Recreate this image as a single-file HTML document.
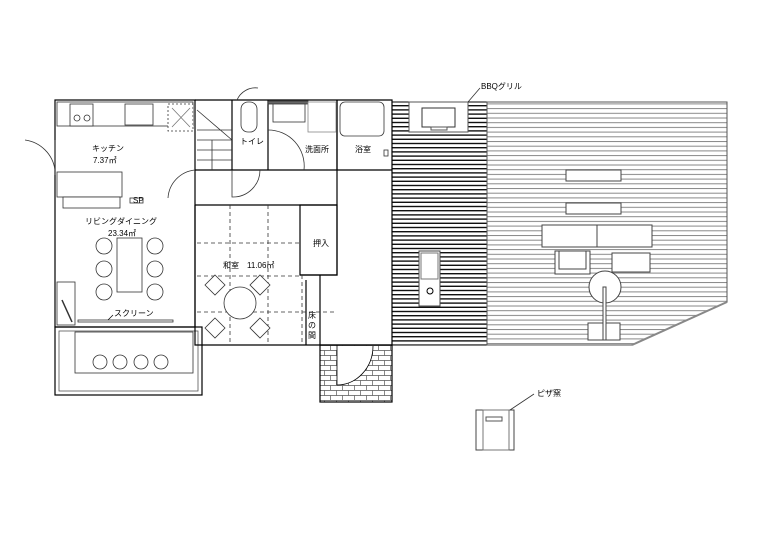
<!DOCTYPE html>
<html><head><meta charset="utf-8"><style>
html,body{margin:0;padding:0;background:#fff;}
svg{display:block;}
text{font-family:"Liberation Sans","Noto Sans CJK JP",sans-serif;font-size:8px;fill:#000;}
</style></head><body>
<svg width="768" height="543" viewBox="0 0 768 543" xmlns="http://www.w3.org/2000/svg">
<defs>
<pattern id="dk" width="4" height="4.2" patternUnits="userSpaceOnUse"><line x1="0" y1="0.7" x2="4" y2="0.7" stroke="#111" stroke-width="1.4"/></pattern>
<pattern id="lt" width="4" height="4.7" patternUnits="userSpaceOnUse"><line x1="0" y1="0.5" x2="4" y2="0.5" stroke="#888" stroke-width="1"/></pattern>
<pattern id="br" width="12" height="10" patternUnits="userSpaceOnUse"><path d="M0 0.5H12M0 5.5H12M0.5 0.5V5.5M6.5 5.5V10.5" stroke="#555" fill="none" stroke-width="0.7"/></pattern>
</defs>
<rect x="392" y="102" width="95" height="243" fill="url(#dk)" stroke="#000"/>
<path d="M487 102H727V302L632 345H487Z" fill="url(#lt)" stroke="#555"/>
<path d="M727 302L632 345" stroke="#888" stroke-width="2"/>
<rect x="409" y="102" width="59" height="30" fill="#fff" stroke="#555"/>
<rect x="422" y="108" width="33" height="19" fill="#fff" stroke="#333"/>
<rect x="431" y="127" width="16" height="3" fill="#fff" stroke="#555"/>
<path d="M468 102L480 88" stroke="#333" stroke-width="0.8"/>
<text x="481" y="89">BBQグリル</text>
<rect x="419" y="251" width="21" height="55" fill="#fff" stroke="#444"/>
<rect x="421" y="253" width="17" height="26" fill="#fff" stroke="#777"/>
<circle cx="430" cy="291" r="3" fill="#fff" stroke="#000"/>
<g fill="#fff" stroke="#444">
<rect x="566" y="170" width="55" height="11"/>
<rect x="566" y="203" width="55" height="11"/>
<rect x="542" y="225" width="110" height="22"/>
<line x1="597" y1="225" x2="597" y2="247"/>
<rect x="555" y="251" width="35" height="23"/>
<rect x="559" y="251" width="27" height="18"/>
<rect x="612" y="253" width="38" height="19"/>
<circle cx="605" cy="287" r="16"/>
<rect x="588" y="323" width="32" height="17"/>
<rect x="603" y="287" width="3" height="53"/>
</g>
<rect x="476" y="410" width="38" height="40" fill="#fff" stroke="#444"/>
<rect x="483" y="410" width="26" height="40" fill="none" stroke="#777"/>
<rect x="486" y="417" width="16" height="4" fill="none" stroke="#555"/>
<path d="M510 410L534 394" stroke="#333" stroke-width="0.8"/>
<text x="537" y="396">ピザ窯</text>
<g fill="none" stroke="#000" stroke-width="1.2">
<rect x="55" y="100" width="140" height="227"/>
<rect x="55" y="327" width="147" height="68"/>
<rect x="59" y="331" width="139" height="60" stroke="#555" stroke-width="0.8"/>
<path d="M195 100H392V345H195V205"/>
<path d="M195 170H392M232 100V170M268 100V170M337 100V170"/>
<path d="M195 205H337V275H300M337 205V100"/>
<rect x="300" y="205" width="37" height="70"/>
<path d="M320 275V345M306 280V345"/>
<rect x="320" y="345" width="72" height="57" fill="url(#br)"/>
</g>
<path d="M337 346H373A36 39 0 0 1 337 385Z" fill="#fff" stroke="none"/>
<path d="M373 346A36 39 0 0 1 337 385" fill="none" stroke="#000" stroke-width="0.8"/>
<path d="M337 345V385" stroke="#000" stroke-width="0.8"/>
<g fill="#fff" stroke="#333" stroke-width="0.8">
<rect x="57" y="102" width="136" height="24"/>
<rect x="70" y="104" width="23" height="22"/>
<circle cx="77" cy="118" r="3"/><circle cx="87" cy="118" r="3"/>
<rect x="125" y="104" width="28" height="21"/>
<rect x="168" y="104" width="25" height="27" stroke-dasharray="2,2"/>
<path d="M172 108L190 127M190 108L172 127" stroke="#777"/>
<rect x="57" y="172" width="65" height="25"/>
<rect x="63" y="197" width="57" height="11"/>
<rect x="130" y="198" width="13" height="5"/>
<rect x="117" y="238" width="25" height="54"/>
<circle cx="104" cy="246" r="8"/><circle cx="104" cy="269" r="8"/><circle cx="104" cy="292" r="8"/>
<circle cx="155" cy="246" r="8"/><circle cx="155" cy="269" r="8"/><circle cx="155" cy="292" r="8"/>
<rect x="57" y="282" width="18" height="43"/>
<line x1="62" y1="300" x2="72" y2="322" stroke-width="1.5"/>
<rect x="78" y="320" width="95" height="2"/>
<rect x="75" y="332" width="118" height="41"/>
<circle cx="100" cy="362" r="7"/><circle cx="120" cy="362" r="7"/><circle cx="141" cy="362" r="7"/><circle cx="161" cy="362" r="7"/>
</g>
<path d="M25 140A35 35 0 0 1 55 170M55 140V175" fill="none" stroke="#333" stroke-width="0.8"/>
<path d="M195 170A30 30 0 0 0 168 198" fill="none" stroke="#333" stroke-width="0.8"/>
<g fill="#fff" stroke="#333" stroke-width="0.8">
<path d="M197 110L232 140M197 130H232M197 140H232M197 150H232M197 160H232M212 140V170"/>
<rect x="241" y="102" width="16" height="30" rx="7"/>
<rect x="273" y="102" width="32" height="20"/>
<rect x="268" y="101" width="40" height="3" fill="#666"/>
<rect x="308" y="102" width="28" height="30" stroke="#888"/>
<rect x="340" y="102" width="44" height="34" rx="5"/>
<path d="M232 170V197A27 27 0 0 0 260 170" fill="none"/>
<path d="M268 130A36 36 0 0 1 304 170" fill="none"/>
<rect x="384" y="150" width="4" height="6"/>
</g>
<path d="M237 100A20 20 0 0 1 258 88" fill="none" stroke="#333" stroke-width="0.8"/>
<text x="240" y="144">トイレ</text>
<text x="305" y="152">洗面所</text>
<text x="355" y="152">浴室</text>
<g stroke="#333" stroke-width="0.8" stroke-dasharray="4,3" fill="none">
<path d="M197 243H300M197 276H300M197 312H337M230 205V345M268 205V345M302 275V345"/>
</g>
<circle cx="240" cy="303" r="16" fill="#fff" stroke="#333" stroke-width="0.8"/>
<g fill="#fff" stroke="#333" stroke-width="0.8">
<path d="M215 275L225 285L215 295L205 285Z"/>
<path d="M260 275L270 285L260 295L250 285Z"/>
<path d="M215 318L225 328L215 338L205 328Z"/>
<path d="M260 318L270 328L260 338L250 328Z"/>
</g>
<text x="223" y="268">和室　11.06㎡</text>
<text x="313" y="246">押入</text>
<text x="308" y="318" font-size="7">床</text>
<text x="308" y="328" font-size="7">の</text>
<text x="308" y="338" font-size="7">間</text>
<text x="92" y="151">キッチン</text>
<text x="93" y="163">7.37㎡</text>
<text x="85" y="224">リビングダイニング</text>
<text x="108" y="236">23.34㎡</text>
<text x="114" y="316">スクリーン</text>
<path d="M108 320L113 315" stroke="#000" stroke-width="0.7"/>
<text x="133" y="203" font-size="4">SP</text>
</svg>
</body></html>
